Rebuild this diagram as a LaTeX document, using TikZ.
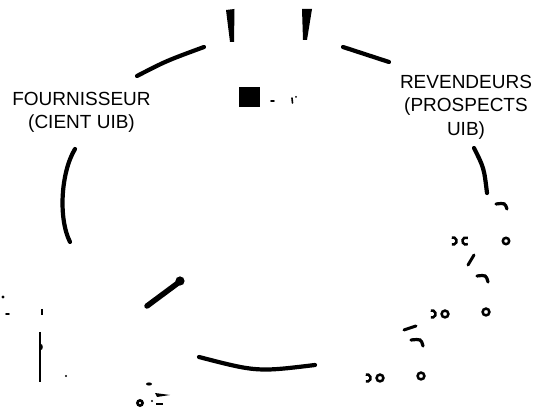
\documentclass[tikz,border=0pt]{standalone}
\usepackage{fontspec}
\setmainfont{Liberation Sans}
\begin{document}
\begin{tikzpicture}[x=1pt,y=-1pt,
  heavy/.style={line width=4.2pt,line cap=round},
  hookline/.style={line width=3.2pt,line cap=round},
  frag/.style={line width=2.5pt},
  speck/.style={line width=1.6pt,line cap=round},
  label/.style={font=\fontsize{19}{23.5}\selectfont,align=center,inner sep=0pt,anchor=north}]
\useasboundingbox (0,0) rectangle (542,411);
\fill[white] (0,0) rectangle (542,411);
% labels
\node[label] (four) at (81.5,92) {FOURNISSEUR\\(CIENT UIB)};
\node[label] (rev) at (466,75) {REVENDEURS\\(PROSPECTS\\UIB)};
% top tapered strokes
\fill (226,10) -- (234.5,9) -- (234,42) -- (230,42) -- cycle;
\fill (302,9) -- (312,9) -- (307,40) -- (303,40) -- cycle;
% arcs of the ring
\draw[heavy] (137,76) .. controls (166,61) .. (204,47);
\draw[heavy] (343,47) .. controls (366,54) .. (389,62);
\draw[heavy] (75,149) .. controls (61,172) and (58,218) .. (70,242);
\draw[heavy] (474,148) .. controls (484,168) .. (487,193);
\draw[heavy] (199,357) .. controls (257,372) .. (315,365);
% teardrop stroke
\draw[line width=5.5pt,line cap=round] (147,306) -- (178,283);
\fill (180,281) circle (4.6);
% black square and specks
\fill (239,87) rectangle (260,107);
\draw[speck] (271,101) -- (274,101);
\draw[speck] (292,98) -- (292.5,103);
\fill (296,97) circle (1);
% right side hooks and slashes
\draw[hookline] (496,204) .. controls (505,203) .. (507,209);
\draw[hookline] (477,276) .. controls (486,275) .. (488,282);
\draw[hookline] (411,340) .. controls (421,339) .. (423,346);
\draw[line width=3pt,line cap=round] (468,265) -- (474,255);
\draw[line width=3pt,line cap=round] (404,330) -- (416,326);
% glyph fragments
\draw[frag] (453,241) ++(-110:3.6) arc (-110:110:3.6);
\draw[frag] (466,241) ++(60:3.6) arc (60:300:3.6);
\draw[frag] (506,241) circle (3.2);
\draw[frag] (432,314) ++(-110:3.6) arc (-110:110:3.6);
\draw[frag] (445,314) circle (3.4);
\draw[frag] (486,312) circle (3.4);
\draw[frag] (367,378) ++(-110:3.6) arc (-110:110:3.6);
\draw[frag] (380,378) circle (3.4);
\draw[frag] (421,376) circle (3.4);
% left specks
\fill (3,297) circle (1.6);
\draw[speck] (6,314) -- (9,314);
\draw[line width=2pt] (42,309) -- (42,315);
\draw[line width=2.4pt] (40,332) -- (40,382);
\fill (41,347) ellipse (1.8 and 3);
\fill (66,376) circle (1.2);
% bottom specks
\fill (149,384) ellipse (3 and 1.6);
\fill (155,393) -- (170,395) -- (157,397) -- cycle;
\draw[line width=2.6pt] (140,403) circle (2.6);
\fill (152,401) circle (1.2);
\draw[line width=2pt] (156,404) -- (163,404);
\end{tikzpicture}
\end{document}
